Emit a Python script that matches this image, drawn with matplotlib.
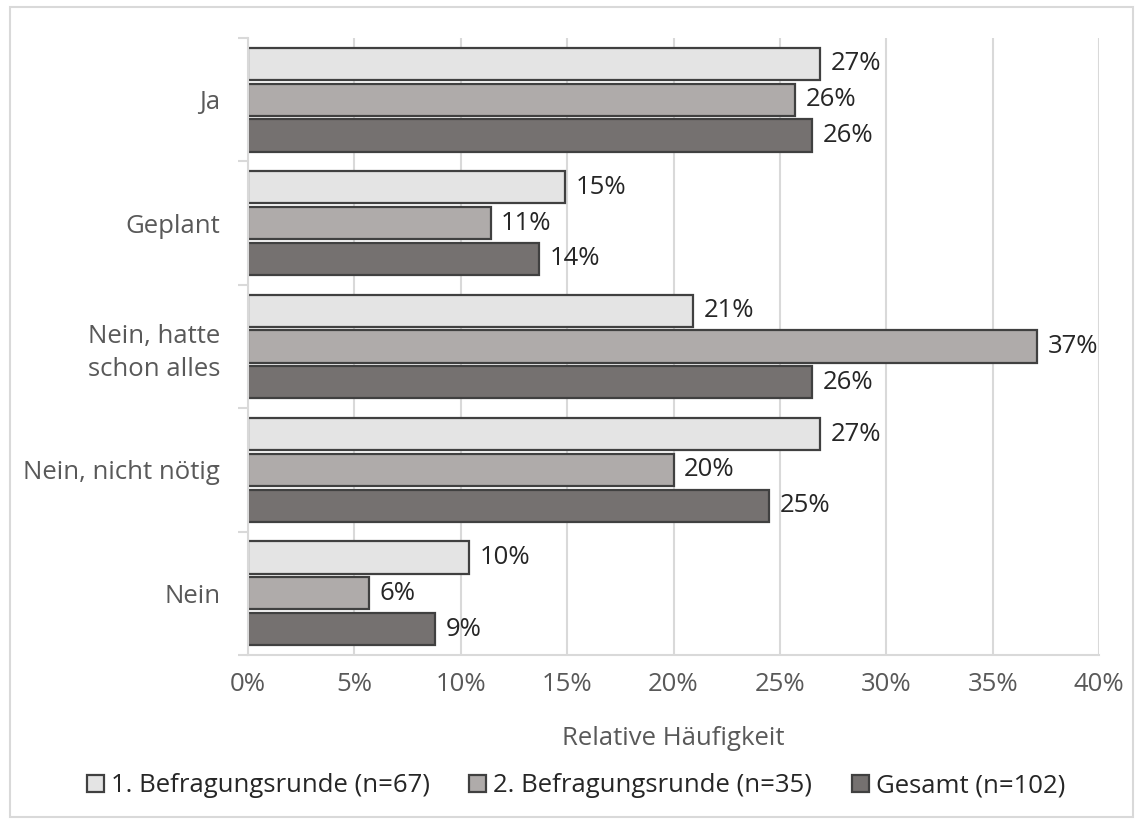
import numpy as np
import matplotlib.pyplot as plt
from matplotlib.patches import Rectangle

plt.rcParams['font.family'] = ['Open Sans', 'DejaVu Sans']

categories = ['Ja', 'Geplant', 'Nein, hatte\nschon alles', 'Nein, nicht nötig', 'Nein']
series_names = ['1. Befragungsrunde (n=67)', '2. Befragungsrunde (n=35)', 'Gesamt (n=102)']
runde1 = [26.9, 14.9, 20.9, 26.9, 10.4]
runde2 = [25.7, 11.4, 37.1, 20.0, 5.7]
gesamt = [26.5, 13.7, 26.5, 24.5, 8.8]
labels1 = ['27%', '15%', '21%', '27%', '10%']
labels2 = ['26%', '11%', '37%', '20%', '6%']
labels3 = ['26%', '14%', '26%', '25%', '9%']

colors = ['#E4E4E4', '#AFABAA', '#757170']
edge = '#404040'
grey_txt = '#595959'
dark_txt = '#262626'
fs = 18.5

fig = plt.figure(figsize=(11.42, 8.19), dpi=100)
ax = fig.add_axes([248 / 1142, 1 - 655 / 819, (1099 - 248) / 1142, (655 - 38) / 819])

# Rahmen um das Diagramm
fig.patches.append(Rectangle((10 / 1142, 1 - 817 / 819), 1123 / 1142, 810 / 819,
                             transform=fig.transFigure, fill=False, edgecolor='#D9D9D9', lw=1.5))

y = np.arange(len(categories))
h = 0.26
offs = [-0.29, 0, 0.29]
for vals, labs, off, col, name in zip([runde1, runde2, gesamt], [labels1, labels2, labels3],
                                      offs, colors, series_names):
    bars = ax.barh(y + off, vals, height=h, color=col, edgecolor=edge, linewidth=1.6, label=name)
    for b, lab in zip(bars, labs):
        ax.text(b.get_width() + 0.5, b.get_y() + b.get_height() / 2, lab,
                va='center', ha='left', fontsize=fs, color=dark_txt)

ax.set_ylim(len(categories) - 0.5, -0.5)
ax.set_xlim(0, 40)
ax.set_xticks(np.arange(0, 41, 5))
ax.set_xticklabels([f'{v}%' for v in range(0, 41, 5)])
ax.set_yticks(y)
ax.set_yticklabels(categories)
ax.set_yticks(np.arange(-0.5, len(categories)), minor=True)
ax.tick_params(axis='y', which='major', length=0, pad=20, labelsize=fs, labelcolor=grey_txt)
ax.tick_params(axis='y', which='minor', length=7, color='#D9D9D9', width=1.5)
ax.tick_params(axis='x', length=0, pad=12, labelsize=fs, labelcolor=grey_txt)
ax.grid(axis='x', color='#D9D9D9', lw=1.5)
ax.set_axisbelow(True)
for s in ['top', 'right']:
    ax.spines[s].set_visible(False)
for s in ['left', 'bottom']:
    ax.spines[s].set_color('#D9D9D9')
    ax.spines[s].set_linewidth(1.5)
for lab in ax.get_yticklabels():
    lab.set_multialignment('right')
    lab.set_linespacing(1.4)

ax.set_xlabel('Relative Häufigkeit', fontsize=fs, color=grey_txt, labelpad=21)

fig.legend(loc='center', bbox_to_anchor=(576 / 1142, 1 - 786 / 819), ncol=3, frameon=False,
           fontsize=fs, handlelength=0.65, handleheight=0.65, handletextpad=0.27,
           columnspacing=1.55, labelcolor=dark_txt, borderpad=0)

fig.savefig('out.png', dpi=100)
